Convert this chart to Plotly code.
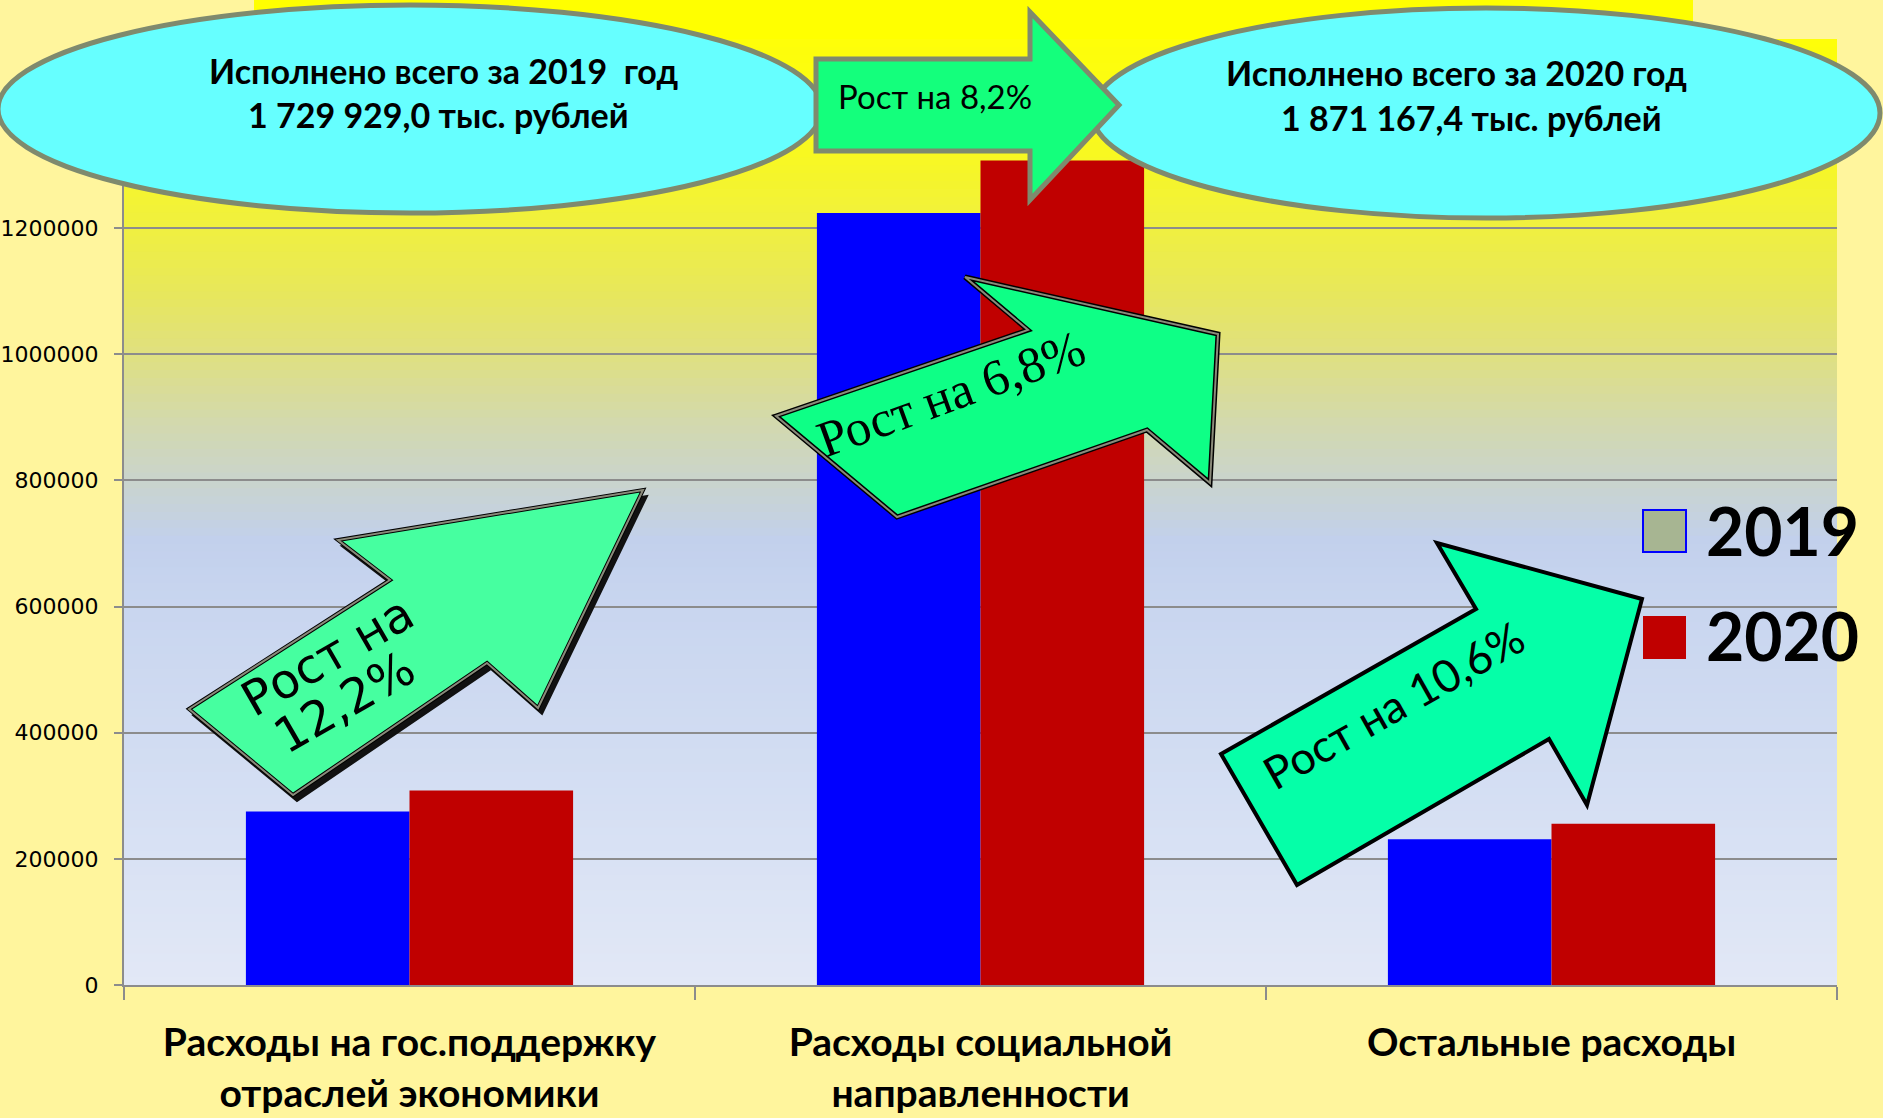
import plotly.graph_objects as go

# ---------------- data ----------------
categories = ["Расходы на гос.поддержку<br>отраслей экономики",
              "Расходы социальной<br>направленности",
              "Остальные расходы"]
series_names = ["2019", "2020"]
values_2019 = [275000, 1224000, 231000]
values_2020 = [308500, 1307500, 255500]
series_colors = ["#0000FF", "#C00000"]
legend_swatch = ["#A7B592", "#C00000"]
legend_swatch_border = ["#0000FF", "#C00000"]

total_2019_lines = ["Исполнено всего за 2019  год", "1 729 929,0 тыс. рублей"]
total_2020_lines = ["Исполнено всего за 2020 год", "1 871 167,4 тыс. рублей"]
total_growth = "Рост на 8,2%"
growth_labels = ["Рост на<br>12,2%", "Рост на 6,8%", "Рост на 10,6%"]

y_ticks = [0, 200000, 400000, 600000, 800000, 1000000, 1200000, 1400000]

# ---------------- layout geometry (pixels) ----------------
W, H = 1883, 1118
L, R, T, B = 124, 1837, 39, 985


def px(x):
    return (x - L) / (R - L)


def py(y):
    return (B - y) / (B - T)


def path(points):
    return "M " + " L ".join(f"{px(x):.5f},{py(y):.5f}" for x, y in points) + " Z"


def hex2rgb(h):
    h = h.lstrip("#")
    return tuple(int(h[i:i + 2], 16) for i in (0, 2, 4))


fig = go.Figure()
for name, vals, col in zip(series_names, [values_2019, values_2020], series_colors):
    fig.add_trace(go.Bar(x=categories, y=vals, name=name, marker_color=col,
                         marker_line_width=0, showlegend=False, hoverinfo="skip"))

shapes = []

# background gradient bands in plot area
stops = [(0.0, "#E2E8F6"), (0.196, "#D5DFF3"), (0.407, "#C8D5EF"), (0.47, "#C2D0EC"),
         (0.534, "#CAD4CC"), (0.597, "#D3D9AC"), (0.667, "#DFE080"), (0.735, "#E8E85A"),
         (0.80, "#F0F040"), (0.883, "#F8F820"), (1.0, "#FEFE08")]


def color_at(t):
    for (t0, c0), (t1, c1) in zip(stops[:-1], stops[1:]):
        if t0 <= t <= t1:
            f = (t - t0) / (t1 - t0) if t1 > t0 else 0
            a, b = hex2rgb(c0), hex2rgb(c1)
            return "rgb(%d,%d,%d)" % tuple(round(a[i] + (b[i] - a[i]) * f) for i in range(3))
    return stops[-1][1]


NB = 120
for i in range(NB):
    y0 = i / NB
    y1 = (i + 1) / NB + 0.002
    shapes.append(dict(type="rect", xref="paper", yref="paper", x0=0, x1=1, y0=y0, y1=min(y1, 1),
                       fillcolor=color_at((i + 0.5) / NB), line_width=0, layer="below"))

# yellow strip at top
shapes.append(dict(type="rect", xref="paper", yref="paper", x0=px(254), x1=px(1693),
                   y0=py(39), y1=py(0), fillcolor="#FFFF00", line_width=0, layer="above"))

# ellipses
ell_line = "#7F8A6E"
shapes.append(dict(type="circle", xref="paper", yref="paper", x0=px(-2), x1=px(822),
                   y0=py(213), y1=py(5), fillcolor="#66FFFF", line=dict(color=ell_line, width=5)))
shapes.append(dict(type="circle", xref="paper", yref="paper", x0=px(1092), x1=px(1880),
                   y0=py(218), y1=py(8), fillcolor="#66FFFF", line=dict(color=ell_line, width=5)))

# top arrow (total growth)
top_arrow = [(816, 59), (1030, 59), (1030, 12), (1119, 105), (1030, 200), (1030, 151), (816, 151)]
shapes.append(dict(type="path", xref="paper", yref="paper", path=path(top_arrow),
                   fillcolor="#14FF7C", line=dict(color=ell_line, width=5)))

# arrow 1
arrow1 = [(189, 709), (390, 580), (338, 540), (643, 490), (538, 708), (487, 663), (293, 795)]
arrow1_shadow = [(x + 4, y + 6) for x, y in arrow1]
shapes.append(dict(type="path", xref="paper", yref="paper", path=path(arrow1_shadow),
                   fillcolor="#111111", line=dict(color="#111111", width=2)))
shapes.append(dict(type="path", xref="paper", yref="paper", path=path(arrow1),
                   fillcolor="#46FFA0", line=dict(color="#000000", width=4)))
shapes.append(dict(type="path", xref="paper", yref="paper", path=path(arrow1),
                   fillcolor="rgba(0,0,0,0)", line=dict(color="#8A8A7A", width=2)))

# arrow 2
arrow2 = [(776, 416), (1028, 330), (965, 277), (1218, 334), (1210, 483), (1147, 430), (897, 517)]
shapes.append(dict(type="path", xref="paper", yref="paper", path=path(arrow2),
                   fillcolor="#0EFF86", line=dict(color="#000000", width=5)))
shapes.append(dict(type="path", xref="paper", yref="paper", path=path(arrow2),
                   fillcolor="rgba(0,0,0,0)", line=dict(color="#8A8A7A", width=2)))

# arrow 3
arrow3 = [(1221, 754), (1476, 609), (1437, 543), (1642, 599), (1587, 805), (1549, 739), (1297, 885)]
shapes.append(dict(type="path", xref="paper", yref="paper", path=path(arrow3),
                   fillcolor="#05FFA8", line=dict(color="#000000", width=4)))

# legend swatches
sw = [(1643, 510, 1686, 552), (1644, 617, 1685, 658)]
for (x0, y0, x1, y1), fc, lc in zip(sw, legend_swatch, legend_swatch_border):
    shapes.append(dict(type="rect", xref="paper", yref="paper", x0=px(x0), x1=px(x1),
                       y0=py(y1), y1=py(y0), fillcolor=fc, line=dict(color=lc, width=2)))

annotations = []
bold_font = "Lato, 'Open Sans', sans-serif"
for (line, xc, yc) in [(total_2019_lines[0], 443, 70), (total_2019_lines[1], 438, 114),
                       (total_2020_lines[0], 1456, 73), (total_2020_lines[1], 1471, 118)]:
    annotations.append(dict(xref="paper", yref="paper", x=px(xc), y=py(yc), text="<b>%s</b>" % line,
                            showarrow=False, xanchor="center", yanchor="middle",
                            font=dict(family=bold_font, size=34, color="#000000")))

annotations.append(dict(xref="paper", yref="paper", x=px(935), y=py(96), text=total_growth,
                        showarrow=False, xanchor="center", yanchor="middle",
                        font=dict(family=bold_font, size=33, color="#000000")))

# arrow 1 text: two lines placed separately
for part, (xc, yc) in zip(growth_labels[0].split("<br>"), [(327, 656), (344, 702)]):
    annotations.append(dict(xref="paper", yref="paper", x=px(xc), y=py(yc), text=part,
                            showarrow=False, xanchor="center", yanchor="middle", textangle=-30,
                            font=dict(family="DejaVu Sans, Verdana, sans-serif", size=48,
                                      color="#000000")))
annotations.append(dict(xref="paper", yref="paper", x=px(951), y=py(394), text=growth_labels[1],
                        showarrow=False, xanchor="center", yanchor="middle", textangle=-20,
                        font=dict(family="Liberation Serif, 'Times New Roman', serif", size=51,
                                  color="#000000")))
annotations.append(dict(xref="paper", yref="paper", x=px(1393), y=py(705), text=growth_labels[2],
                        showarrow=False, xanchor="center", yanchor="middle", textangle=-29.5,
                        font=dict(family=bold_font, size=45, color="#000000")))

# legend labels
for name, yc in zip(series_names, [530, 635]):
    annotations.append(dict(xref="paper", yref="paper", x=px(1704), y=py(yc), text="<b>%s</b>" % name,
                            showarrow=False, xanchor="left", yanchor="middle",
                            font=dict(family=bold_font, size=66, color="#000000")))

fig.update_layout(
    width=W, height=H,
    margin=dict(l=L, r=W - R, t=T, b=H - B, pad=0, autoexpand=False),
    paper_bgcolor="#FFF59D",
    plot_bgcolor="rgba(0,0,0,0)",
    bargap=0.427, bargroupgap=0,
    barmode="group",
    showlegend=False,
    hovermode=False,
    shapes=shapes,
    annotations=annotations,
    xaxis=dict(type="category", tickson="boundaries", ticks="outside", ticklen=13,
               tickcolor="#8C8C8C", tickwidth=2, showline=True, linecolor="#8C8C8C", linewidth=2,
               showgrid=False, ticklabelstandoff=22, automargin=False,
               tickfont=dict(family=bold_font, size=39, color="#000000"),
               tickprefix="<b>", ticksuffix="</b>"),
    yaxis=dict(range=[0, 1500000], tickvals=y_ticks, tickformat="d", ticks="outside", ticklen=8,
               tickcolor="#8C8C8C", tickwidth=2, showline=True, linecolor="#8C8C8C", linewidth=2,
               gridcolor="#8C8C8C", gridwidth=2, zeroline=False, ticklabelstandoff=11,
               automargin=False,
               tickfont=dict(family="DejaVu Sans, Verdana, sans-serif", size=22, color="#000000")),
)

fig.write_html("out.html", config={"displayModeBar": False},
               post_script="document.body.style.margin='0';document.body.style.overflow='hidden';")
